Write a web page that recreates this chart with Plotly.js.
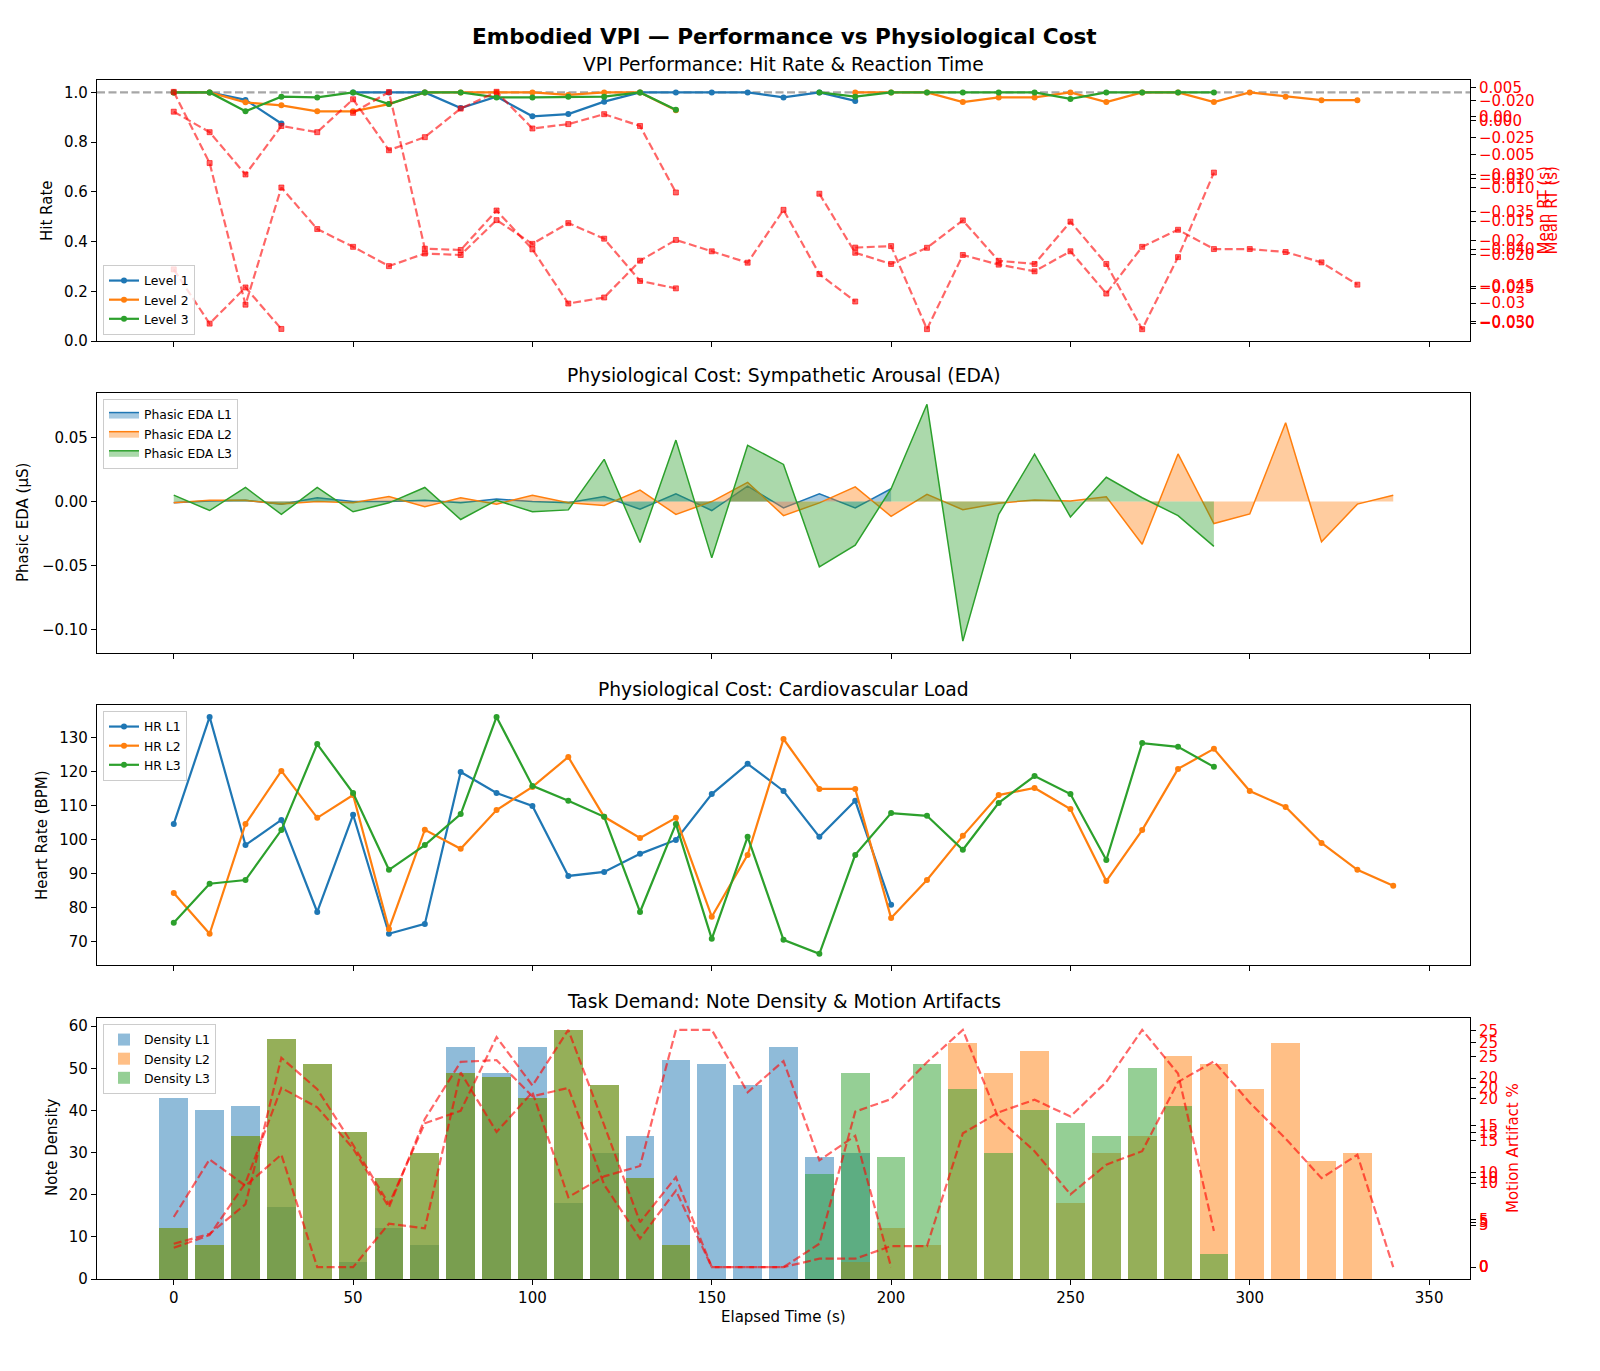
<!DOCTYPE html>
<html>
<head>
<meta charset="utf-8">
<script src="https://cdn.plot.ly/plotly-3.0.1.min.js"></script>
<style>html,body{margin:0;padding:0;background:#fff;}#chart{width:1600px;height:1371px;}</style>
</head>
<body>
<div id="chart"></div>
<script>
// ---------- DATA ----------
const T1 = [0,10,20,30,40,50,60,70,80,90,100,110,120,130,140,150,160,170,180,190,200];
const T2 = [0,10,20,30,40,50,60,70,80,90,100,110,120,130,140,150,160,170,180,190,200,210,220,230,240,250,260,270,280,290,300,310,320,330,340];
const T3 = [0,10,20,30,40,50,60,70,80,90,100,110,120,130,140,150,160,170,180,190,200,210,220,230,240,250,260,270,280,290];

const hit1 = [1.0,1.0,0.97,0.875,null,1.0,1.0,1.0,0.937,0.983,0.904,0.913,0.963,1.0,1.0,1.0,1.0,0.98,1.0,0.966,null];
const hit2 = [1.0,1.0,0.96,0.948,0.924,0.924,0.953,1.0,1.0,1.0,1.0,0.99,1.0,1.0,0.928,null,null,null,null,1.0,1.0,1.0,0.961,0.98,0.98,1.0,0.961,1.0,1.0,0.961,1.0,0.983,0.969,0.969,null];
const hit3 = [1.0,1.0,0.924,0.983,0.98,1.0,0.953,1.0,1.0,0.98,0.98,0.983,0.983,1.0,0.93,null,null,null,1.0,0.983,1.0,1.0,1.0,1.0,1.0,0.974,1.0,1.0,1.0,1.0];

const rt1 = [-0.0222,-0.0303,-0.0249,-0.0311,null,0.0012,0.0043,-0.0191,-0.0193,-0.0134,-0.0192,-0.0273,-0.0264,-0.0209,-0.0178,-0.0195,-0.0212,-0.0133,-0.0229,-0.0270,null];
const rt2 = [-0.0188,-0.0284,-0.0475,-0.0317,-0.0373,-0.0397,-0.0423,-0.0406,-0.0408,-0.0361,-0.0393,-0.0365,-0.0386,-0.0443,-0.0453,null,null,null,null,-0.0398,-0.0396,-0.0508,-0.0408,-0.0421,-0.0430,-0.0403,-0.0460,-0.0397,-0.0374,-0.0400,-0.0400,-0.0404,-0.0418,-0.0448,null];
const rt3 = [0.0008,-0.0025,-0.0093,-0.0015,-0.0025,0.0028,-0.0054,-0.0033,0.0013,0.0040,-0.0019,-0.0012,0.0004,-0.0015,-0.0122,null,null,null,-0.0124,-0.0219,-0.0237,-0.0211,-0.0167,-0.0232,-0.0237,-0.0169,-0.0237,-0.0342,-0.0226,-0.0090];

const eda1 = [-0.001,0.0005,0.001,-0.002,0.003,0.0,0.0,0.001,-0.001,0.002,0.0,-0.001,0.004,-0.006,0.006,-0.007,0.012,-0.005,0.006,-0.005,0.010];
const eda2 = [-0.001,0.001,0.001,-0.002,0.0,-0.001,0.004,-0.004,0.003,-0.002,0.005,-0.001,-0.003,0.009,-0.010,0.0,0.015,-0.011,-0.001,0.0115,-0.0115,0.0056,-0.0064,-0.0013,0.0013,0.0005,0.0038,-0.0333,0.0372,-0.0172,-0.0097,0.0615,-0.0315,-0.002,0.005];
const eda3 = [0.005,-0.007,0.011,-0.010,0.011,-0.008,-0.001,0.011,-0.014,0.001,-0.008,-0.0065,0.033,-0.032,0.048,-0.044,0.044,0.029,-0.051,-0.034,0.010,0.076,-0.109,-0.010,0.037,-0.012,0.019,0.003,-0.011,-0.035];

const hr1 = [104.7,136.2,98.5,105.9,78.8,107.4,72.4,75.3,120.0,113.8,110.0,89.4,90.6,95.9,100.0,113.5,122.4,114.4,100.9,111.5,80.9];
const hr2 = [84.4,72.4,104.7,120.3,106.5,113.2,73.8,103.0,97.4,108.8,115.6,124.4,106.8,100.6,106.5,77.4,95.6,129.7,115.0,115.0,77.0,88.2,101.2,113.2,115.3,109.1,87.9,102.9,120.9,126.8,114.4,109.7,99.1,91.2,86.5];
const hr3 = [75.6,87.1,88.2,102.9,128.2,113.8,91.2,98.5,107.6,136.2,115.9,111.5,106.8,78.8,104.7,70.9,100.9,70.6,66.5,95.6,107.9,107.1,97.1,110.9,118.8,113.5,94.1,128.5,127.4,121.5];

const dens1 = [43,40,41,17,0,4,12,8,55,49,55,18,30,34,52,51,46,55,29,30,0];
const dens2 = [12,8,34,57,51,35,24,30,49,48,43,59,46,24,8,0,0,0,0,4,12,8,56,49,54,18,30,34,53,51,45,56,28,30,0];
const dens3 = [12,8,34,57,51,35,24,30,49,48,43,59,46,24,8,0,0,0,25,49,29,51,45,30,40,37,34,50,41,6];

const mot1 = [5.3,11.4,8.6,11.9,0,0,4.6,4.1,20.6,14.3,18.5,7.4,9.6,10.7,25.1,25.1,18.5,21.8,11.3,13.9,0];
const mot2 = [2.6,3.7,7.0,23.3,19.8,13.6,7.0,16.0,17.4,25.6,20.2,26.4,15.8,5.0,10.0,0,0,0,2.6,17.3,18.7,22.8,26.4,16.5,12.9,8.1,11.4,12.9,20.6,22.9,18.3,14.3,9.9,12.5,0];
const mot3 = [2.3,3.8,10.0,21.3,19.0,14.1,7.1,17.6,24.4,24.6,20.3,21.3,9.8,3.4,9.1,0,0,0,1.0,1.0,2.5,2.5,15.9,18.4,19.9,17.9,22.0,28.2,23.0,4.3];

const XTICKS = [0,50,100,150,200,250,300,350];

// ---------- STYLE ----------
const FONT = 'DejaVu Sans, sans-serif';
const C1 = '#1f77b4', C2 = '#ff7f0e', C3 = '#2ca02c';
const RED = 'rgba(255,0,0,0.6)';
const DASH = '8px,3.5px';
const FS = 15;

const traces = [];
function hitTrace(x, y, name, color) {
  return {type:'scatter', mode:'lines+markers', x:x, y:y, name:name, xaxis:'x', yaxis:'y', legend:'legend',
    line:{color:color, width:2.2}, marker:{color:color, size:6}, connectgaps:false};
}
traces.push(hitTrace(T1, hit1, 'Level 1', C1));
traces.push(hitTrace(T2, hit2, 'Level 2', C2));
traces.push(hitTrace(T3, hit3, 'Level 3', C3));
function rtTrace(x, y, ya) {
  return {type:'scatter', mode:'lines+markers', x:x, y:y, xaxis:'x', yaxis:ya, showlegend:false,
    line:{color:RED, width:2.2, dash:DASH}, marker:{symbol:'square', size:5, color:RED, line:{color:RED, width:1}}, connectgaps:false};
}
traces.push(rtTrace(T1, rt1, 'y5'));
traces.push(rtTrace(T2, rt2, 'y6'));
traces.push(rtTrace(T3, rt3, 'y7'));

function edaTrace(x, y, name, color, fillc) {
  return {type:'scatter', mode:'lines', x:x, y:y, name:name, xaxis:'x2', yaxis:'y2', legend:'legend2',
    fill:'tozeroy', fillcolor:fillc, line:{color:color, width:1.5}};
}
traces.push(edaTrace(T1, eda1, 'Phasic EDA L1', C1, 'rgba(31,119,180,0.4)'));
traces.push(edaTrace(T2, eda2, 'Phasic EDA L2', C2, 'rgba(255,127,14,0.4)'));
traces.push(edaTrace(T3, eda3, 'Phasic EDA L3', C3, 'rgba(44,160,44,0.4)'));

function hrTrace(x, y, name, color) {
  return {type:'scatter', mode:'lines+markers', x:x, y:y, name:name, xaxis:'x3', yaxis:'y3', legend:'legend3',
    line:{color:color, width:2.2}, marker:{color:color, size:6}};
}
traces.push(hrTrace(T1, hr1, 'HR L1', C1));
traces.push(hrTrace(T2, hr2, 'HR L2', C2));
traces.push(hrTrace(T3, hr3, 'HR L3', C3));

function barTrace(x, y, name, fillc) {
  return {type:'bar', x:x, y:y, name:name, xaxis:'x4', yaxis:'y4', legend:'legend4', width:8,
    marker:{color:fillc, line:{width:0}}};
}
traces.push(barTrace(T1, dens1, 'Density L1', 'rgba(31,119,180,0.5)'));
traces.push(barTrace(T2, dens2, 'Density L2', 'rgba(255,127,14,0.5)'));
traces.push(barTrace(T3, dens3, 'Density L3', 'rgba(44,160,44,0.5)'));
function motTrace(x, y, ya) {
  return {type:'scatter', mode:'lines', x:x, y:y, xaxis:'x4', yaxis:ya, showlegend:false,
    line:{color:RED, width:2.2, dash:DASH}};
}
traces.push(motTrace(T1, mot1, 'y8'));
traces.push(motTrace(T2, mot2, 'y9'));
traces.push(motTrace(T3, mot3, 'y10'));

// ---------- LAYOUT ----------
const W = 1600, H = 1371;
const XDOM = [97/W, 1470/W];
function ydom(top, bottom) { return [1 - bottom/H, 1 - top/H]; }
const axBase = {showgrid:false, zeroline:false, ticks:'outside', ticklen:5, tickwidth:1.2, tickcolor:'#000',
  showline:true, linecolor:'#000', linewidth:1.2, mirror:true, tickfont:{family:FONT, size:FS, color:'#000'}};
function xa(anchor, showLabels) {
  return Object.assign({}, axBase, {domain:XDOM, range:[-21.4, 361.4], anchor:anchor, tickmode:'array', tickvals:XTICKS, showticklabels:showLabels});
}
function ya(dom, range, extra) {
  return Object.assign({}, axBase, {domain:dom, range:range}, extra);
}
function rightAx(over, anchor, range, dtick, fmt) {
  return {overlaying:over, anchor:anchor, side:'right', range:range, dtick:dtick, tick0:0, tickformat:fmt,
    showgrid:false, zeroline:false, showline:false, ticks:'outside', ticklen:5, tickwidth:1.2, tickcolor:'#000',
    tickfont:{family:FONT, size:FS, color:'red'}};
}

const legBase = {bgcolor:'rgba(255,255,255,0.8)', bordercolor:'#cccccc', borderwidth:1,
  font:{family:FONT, size:12.4, color:'#000'}, itemwidth:30, xanchor:'left', tracegroupgap:0};

function ann(text, xpx, ypx, size, opts) {
  return Object.assign({text:text, xref:'paper', yref:'paper', x:xpx/W, y:1 - ypx/H,
    xanchor:'center', yanchor:'middle', showarrow:false, font:{family:FONT, size:size, color:'#000'}}, opts || {});
}
const CX = (97+1470)/2;
const redFont = {family:FONT, size:FS, color:'red'};

const layout = {
  width:W, height:H, margin:{l:0, r:0, t:0, b:0}, paper_bgcolor:'#fff', plot_bgcolor:'#fff',
  font:{family:FONT, size:FS, color:'#000'}, barmode:'overlay', bargap:0,
  xaxis: xa('y', false),
  xaxis2: Object.assign(xa('y2', false), {matches:'x'}),
  xaxis3: Object.assign(xa('y3', false), {matches:'x'}),
  xaxis4: Object.assign(xa('y4', true), {matches:'x'}),
  yaxis: ya(ydom(80, 341), [0, 1.05], {anchor:'x', tickmode:'array', tickvals:[0,0.2,0.4,0.6,0.8,1.0], tickformat:'.1f'}),
  yaxis2: ya(ydom(393, 653), [-0.1183, 0.0848], {anchor:'x2', dtick:0.05, tick0:0, tickformat:'.2f'}),
  yaxis3: ya(ydom(705, 965), [63.2, 139.7], {anchor:'x3', dtick:10, tick0:0}),
  yaxis4: ya(ydom(1018, 1279), [0, 61.95], {anchor:'x4', dtick:10, tick0:0}),
  yaxis5: rightAx('y', 'x', [-0.0329, 0.0061], 0.005, '.3f'),
  yaxis6: rightAx('y', 'x', [-0.0524, -0.0172], 0.005, '.3f'),
  yaxis7: rightAx('y', 'x', [-0.0361, 0.0059], 0.01, '.2f'),
  yaxis8: rightAx('y4', 'x4', [-1.255, 26.355], 5, 'd'),
  yaxis9: rightAx('y4', 'x4', [-1.32, 27.72], 5, 'd'),
  yaxis10: rightAx('y4', 'x4', [-1.41, 29.61], 5, 'd'),
  legend: Object.assign({}, legBase, {x:103/W, y:1 - 335/H, yanchor:'bottom'}),
  legend2: Object.assign({}, legBase, {x:103/W, y:1 - 399/H, yanchor:'top'}),
  legend3: Object.assign({}, legBase, {x:103/W, y:1 - 711/H, yanchor:'top'}),
  legend4: Object.assign({}, legBase, {x:103/W, y:1 - 1024/H, yanchor:'top'}),
  shapes: [{type:'line', xref:'x domain', yref:'y', x0:0, x1:1, y0:1.0, y1:1.0, layer:'below',
    line:{color:'rgba(128,128,128,0.7)', width:2.2, dash:DASH}}],
  annotations: [
    ann('<b>Embodied VPI — Performance vs Physiological Cost</b>', 784, 36, 21.6),
    ann('VPI Performance: Hit Rate &amp; Reaction Time', CX, 64, 18.7),
    ann('Physiological Cost: Sympathetic Arousal (EDA)', CX, 376, 18.7),
    ann('Physiological Cost: Cardiovascular Load', CX, 689, 18.7),
    ann('Task Demand: Note Density &amp; Motion Artifacts', CX, 1001, 18.7),
    ann('Hit Rate', 46.5, 210.5, FS, {textangle:-90}),
    ann('Phasic EDA (μS)', 23, 523, FS, {textangle:-90}),
    ann('Heart Rate (BPM)', 42, 835, FS, {textangle:-90}),
    ann('Note Density', 52, 1148, FS, {textangle:-90}),
    ann('Elapsed Time (s)', CX, 1317, FS),
    ann('Mean RT (s)', 1543, 210.5, FS, {textangle:-90, font:redFont}),
    ann('Mean RT (s)', 1551, 210.5, FS, {textangle:-90, font:redFont}),
    ann('Motion Artifact %', 1513, 1148, FS, {textangle:-90, font:redFont})
  ]
};

Plotly.newPlot('chart', traces, layout, {displayModeBar:false, responsive:false});
</script>
</body>
</html>
